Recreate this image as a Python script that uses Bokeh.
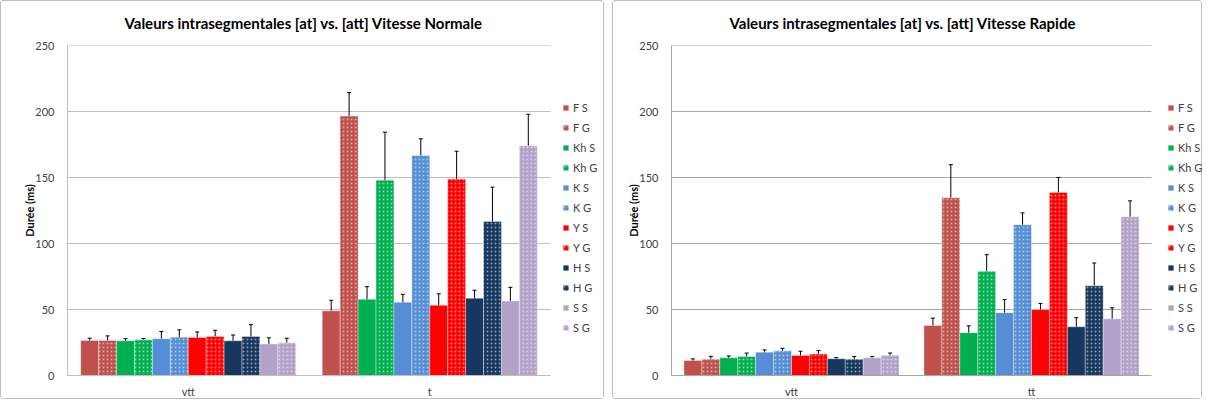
from bokeh.plotting import figure
from bokeh.models import (Range1d, ColumnDataSource, Whisker, TeeHead, Legend,
                          LegendItem, FixedTicker)
from bokeh.transform import dodge
from bokeh.layouts import row
from bokeh.embed import file_html
from bokeh.resources import INLINE

# ---------------- data ----------------
series = ["F S", "F G", "Kh S", "Kh G", "K S", "K G", "Y S", "Y G", "H S", "H G", "S S", "S G"]
series_colors = ["#C0504D", "#C0504D", "#00B050", "#00B050", "#558ED5", "#558ED5",
                 "#FF0000", "#FF0000", "#17375E", "#17375E", "#B3A2C7", "#B3A2C7"]
series_dotted = [False, True, False, True, False, True, False, True, False, True, False, True]

cats_normale = ["vtt", "t"]
normale_vtt = [26.5, 26.5, 26.3, 27.0, 27.8, 29.0, 28.8, 29.5, 26.3, 29.5, 23.8, 24.8]
normale_vtt_err = [1.75, 3.5, 1.6, 1.0, 5.5, 5.6, 4.2, 4.75, 4.4, 9.0, 4.75, 3.4]
normale_t = [49.0, 196.5, 57.7, 148.0, 55.5, 166.7, 53.2, 148.8, 58.5, 116.7, 56.5, 174.0]
normale_t_err = [8.0, 17.9, 9.6, 36.3, 6.0, 12.6, 8.7, 21.1, 6.1, 26.0, 10.3, 23.9]

cats_rapide = ["vtt", "tt"]
rapide_vtt = [11.4, 12.4, 13.4, 14.4, 17.7, 18.7, 15.2, 16.2, 12.7, 12.4, 13.4, 15.4]
rapide_vtt_err = [1.2, 2.1, 1.4, 2.6, 1.7, 1.9, 3.2, 2.7, 0.9, 2.0, 1.0, 1.6]
rapide_tt = [37.9, 134.7, 32.4, 79.0, 47.6, 114.2, 49.9, 138.7, 36.9, 68.0, 42.9, 120.2]
rapide_tt_err = [5.5, 25.0, 5.2, 12.5, 10.0, 9.0, 4.7, 11.3, 6.9, 17.2, 8.4, 12.1]

y_ticks = [0, 50, 100, 150, 200, 250]
title_normale = "Valeurs intrasegmentales [at] vs. [att] Vitesse Normale"
title_rapide = "Valeurs intrasegmentales [at] vs. [att] Vitesse Rapide"
y_label = "Durée (ms)"

FONT = "Lato"
TXT = "#404040"


def make_chart(cats, va, ea, vb, eb, title, width, border_l, x_end, grid_color, bar_w,
               title_off, legend_x):
    n = len(cats)
    centers = [k + 0.5 for k in range(n)]
    p = figure(x_range=Range1d(0, x_end), y_range=Range1d(0, 250),
               width=width, height=399,
               min_border_left=border_l, min_border_right=1,
               min_border_top=43, min_border_bottom=23,
               output_backend="svg", toolbar_location=None)
    p.title.text = title
    p.title.align = "left"
    p.title.offset = title_off
    p.title.text_font = FONT
    p.title.text_font_size = "15px"
    p.title.text_font_style = "bold"
    p.title.text_color = "#000000"
    p.title.standoff = 24
    p.title.vertical_align = "top"
    p.outline_line_color = None
    p.background_fill_color = None
    p.xgrid.grid_line_color = None
    p.ygrid.grid_line_color = None

    # horizontal gridlines limited to the plot area (categories span 0..n)
    p.segment(x0=[0] * len(y_ticks), x1=[n] * len(y_ticks), y0=y_ticks, y1=y_ticks,
              line_color=grid_color, line_width=1, level="underlay")

    p.yaxis.ticker = FixedTicker(ticks=y_ticks)
    p.xaxis.ticker = FixedTicker(ticks=centers)
    p.xaxis.major_label_overrides = {c: name for c, name in zip(centers, cats)}
    p.xaxis.bounds = (0, n)
    for ax in (p.xaxis, p.yaxis):
        ax.axis_line_color = grid_color
        ax.major_tick_line_color = None
        ax.minor_tick_line_color = None
        ax.major_label_text_font = FONT
        ax.major_label_text_font_size = "11px"
        ax.major_label_text_color = TXT
    p.yaxis.major_label_standoff = 7
    p.xaxis.major_label_standoff = 3
    p.yaxis.axis_label = y_label
    p.yaxis.axis_label_text_font = FONT
    p.yaxis.axis_label_text_font_size = "11px"
    p.yaxis.axis_label_text_font_style = "bold"
    p.yaxis.axis_label_text_color = "#000000"
    p.yaxis.axis_label_standoff = -4

    items = []
    for i, name in enumerate(series):
        off = (i - 5.5) * bar_w
        src = ColumnDataSource(dict(xc=centers, top=[va[i], vb[i]],
                                    upper=[va[i] + ea[i], vb[i] + eb[i]],
                                    lower=[va[i] - ea[i], vb[i] - eb[i]]))
        kw = dict(fill_color=series_colors[i], line_color="white", line_alpha=0.35, line_width=1)
        if series_dotted[i]:
            kw.update(hatch_pattern="dot", hatch_color="white", hatch_alpha=0.5,
                      hatch_scale=4, hatch_weight=1)
        r = p.vbar(x=dodge("xc", off), top="top", width=bar_w, source=src, **kw)
        items.append(LegendItem(label=name, renderers=[r]))
        p.add_layout(Whisker(source=src, base=dodge("xc", off),
                             upper="upper", lower="lower", line_color="black", line_width=1,
                             upper_head=TeeHead(size=4, line_color="black", line_width=1),
                             lower_head=TeeHead(size=4, line_color="black", line_width=1)))

    leg = Legend(items=items, location=(legend_x, 38), label_text_font=FONT,
                 label_text_font_size="11px", label_text_color=TXT,
                 glyph_width=7, glyph_height=7, label_height=20, label_standoff=4,
                 spacing=0, padding=0, margin=0, border_line_color=None,
                 background_fill_alpha=0)
    p.add_layout(leg)
    p.styles = {"border": "1px solid #BFBFBF", "border-radius": "3px"}
    return p


# left: plot area 483 px for the two categories, frame 537 px incl. legend zone
p1 = make_chart(cats_normale, normale_vtt, normale_vtt_err, normale_t, normale_t_err,
                title_normale, 604, 66, 2 * 537 / 483, "#BFBFBF", 0.0742, 57, 495)
p2 = make_chart(cats_rapide, rapide_vtt, rapide_vtt_err, rapide_tt, rapide_tt_err,
                title_rapide, 590, 58, 2 * 531 / 480, "#A6A6A6", 0.0747, 58, 496)

layout = row(p1, p2, spacing=8)
open("out.html", "w").write(file_html(layout, INLINE))
